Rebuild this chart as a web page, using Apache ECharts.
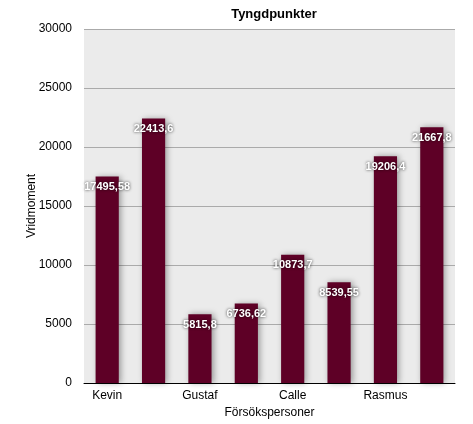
<!DOCTYPE html>
<html><head><meta charset="utf-8">
<script src="https://cdn.jsdelivr.net/npm/echarts@6/dist/echarts.min.js"></script>
<style>html,body{margin:0;padding:0;background:#fff}#c{width:473px;height:424px}</style>
</head><body><div id="c"></div>
<script>
const categories = ['Kevin', '', 'Gustaf', '', 'Calle', '', 'Rasmus', ''];
const values = [17495.58, 22413.6, 5815.8, 6736.62, 10873.7, 8539.55, 19206.4, 21667.8];
const yTicks = [0, 5000, 10000, 15000, 20000, 25000, 30000];

const chart = echarts.init(document.getElementById('c'));
const font = 'Liberation Sans, Arial, sans-serif';
chart.setOption({
  animation: false,
  title: { text: 'Tyngdpunkter', left: 269, top: 3, textAlign: 'center',
    textStyle: { fontFamily: font, fontSize: 13, fontWeight: 'bold', color: '#000' } },
  grid: { left: 84, right: 18, top: 29, bottom: 41, show: true, backgroundColor: '#ebebeb', borderWidth: 0 },
  xAxis: {
    type: 'category', data: categories,
    name: 'Försökspersoner', nameLocation: 'middle', nameGap: 23,
    nameTextStyle: { fontFamily: font, fontSize: 12, color: '#000' },
    axisLine: { lineStyle: { color: '#000', width: 1 } },
    axisTick: { show: false },
    axisLabel: { interval: 0, fontFamily: font, fontSize: 12, color: '#000', margin: 7 }
  },
  yAxis: {
    type: 'value', min: yTicks[0], max: yTicks[yTicks.length - 1], interval: 5000,
    name: 'Vridmoment', nameLocation: 'middle', nameGap: 46, nameMoveOverlap: false,
    nameTextStyle: { fontFamily: font, fontSize: 12, color: '#000' },
    axisLine: { show: false }, axisTick: { show: false },
    axisLabel: { fontFamily: font, fontSize: 12, color: '#000', margin: 12, formatter: v => String(v) },
    splitLine: { lineStyle: { color: '#aaaaaa', width: 1 } }
  },
  series: [{
    type: 'bar', data: values, barWidth: '50%',
    itemStyle: { color: '#5e0026', shadowColor: 'rgba(0,0,0,0.35)', shadowBlur: 6, shadowOffsetX: 2, shadowOffsetY: 0 },
    label: {
      show: true, position: 'insideTop', distance: 5,
      formatter: p => String(p.value).replace('.', ','),
      fontFamily: font, fontSize: 11, fontWeight: 'bold', color: '#fff',
      textShadowColor: 'rgba(0,0,0,0.8)', textShadowBlur: 3
    }
  }]
});
</script></body></html>
